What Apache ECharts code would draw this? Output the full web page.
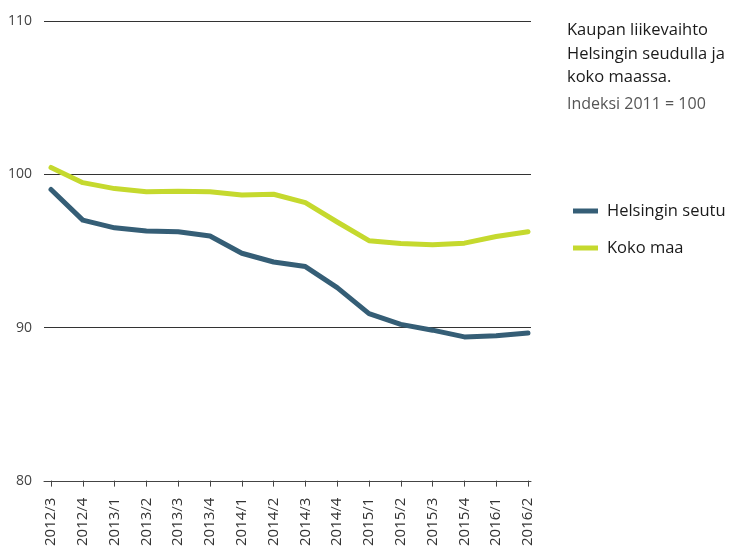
<!DOCTYPE html>
<html>
<head>
<meta charset="utf-8">
<script src="https://cdn.jsdelivr.net/npm/echarts@6/dist/echarts.min.js"></script>
<style>html,body{margin:0;padding:0;background:#fff}#c{width:730px;height:549px}</style>
</head>
<body>
<div id="c"></div>
<script>
var categories = ['2012/3','2012/4','2013/1','2013/2','2013/3','2013/4','2014/1','2014/2','2014/3','2014/4','2015/1','2015/2','2015/3','2015/4','2016/1','2016/2'];
var helsinki = [99.0, 97.0, 96.5, 96.3, 96.25, 95.97, 94.84, 94.27, 93.97, 92.6, 90.9, 90.2, 89.82, 89.38, 89.45, 89.63];
var kokoMaa = [100.44, 99.45, 99.06, 98.85, 98.88, 98.85, 98.65, 98.69, 98.15, 96.88, 95.66, 95.47, 95.4, 95.5, 95.93, 96.25];
var yTicks = [80, 90, 100, 110];
var seriesNames = ['Helsingin seutu', 'Koko maa'];
var titleText = 'Kaupan liikevaihto\nHelsingin seudulla ja\nkoko maassa.';
var subText = 'Indeksi 2011 = 100';

var FONT = '"Open Sans", "Noto Sans", sans-serif';
var chart = echarts.init(document.getElementById('c'));
chart.setOption({
  animation: false,
  backgroundColor: '#fff',
  textStyle: {fontFamily: FONT},
  title: {
    text: titleText,
    subtext: subText,
    left: 562, top: 14,
    itemGap: 4,
    textStyle: {fontFamily: FONT, fontSize: 16.5, fontWeight: 500, color: '#1a1a1a', lineHeight: 23.5},
    subtextStyle: {fontFamily: FONT, fontSize: 16, color: '#555', lineHeight: 22}
  },
  legend: {
    orient: 'vertical',
    left: 568, top: 195,
    itemWidth: 25, itemHeight: 5, itemGap: 15,
    icon: 'rect',
    textStyle: {fontFamily: FONT, fontSize: 16.5, color: '#1a1a1a', padding: [0,0,0,4], lineHeight: 22},
    data: seriesNames
  },
  grid: [
    {left: 44, right: 199, top: 21, bottom: 68},
    {left: 51, right: 202, top: 21, bottom: 68}
  ],
  xAxis: [
    {gridIndex: 0, type: 'value', min: 0, max: 1, show: true,
     axisLine: {show: true, lineStyle: {color: '#444', width: 1}},
     axisTick: {show: false}, axisLabel: {show: false}, splitLine: {show: false}},
    {gridIndex: 1, type: 'category', data: categories, boundaryGap: false,
     axisLine: {show: false},
     axisTick: {show: true, alignWithLabel: true, length: 6, lineStyle: {color: '#444'}},
     axisLabel: {rotate: 90, margin: 17, fontSize: 15, color: '#333', fontFamily: FONT, interval: 0},
     splitLine: {show: false}}
  ],
  yAxis: [
    {gridIndex: 0, type: 'value', min: 80, max: 110, interval: 10,
     axisLine: {show: false}, axisTick: {show: false},
     axisLabel: {margin: 12, fontSize: 14, color: '#444', fontFamily: FONT,
       formatter: function(v){ return yTicks.indexOf(v) >= 0 ? String(v) : ''; }},
     splitLine: {show: true, lineStyle: {color: '#333', width: 1}}},
    {gridIndex: 1, type: 'value', min: 80, max: 110, interval: 10, show: false}
  ],
  series: [
    {name: seriesNames[0], type: 'line', xAxisIndex: 1, yAxisIndex: 1, data: helsinki,
     showSymbol: false, symbol: 'none', color: '#355e76',
     lineStyle: {width: 5, color: '#355e76', cap: 'round', join: 'round'}},
    {name: seriesNames[1], type: 'line', xAxisIndex: 1, yAxisIndex: 1, data: kokoMaa,
     showSymbol: false, symbol: 'none', color: '#c5d92e',
     lineStyle: {width: 5, color: '#c5d92e', cap: 'round', join: 'round'}}
  ]
});
</script>
</body>
</html>
